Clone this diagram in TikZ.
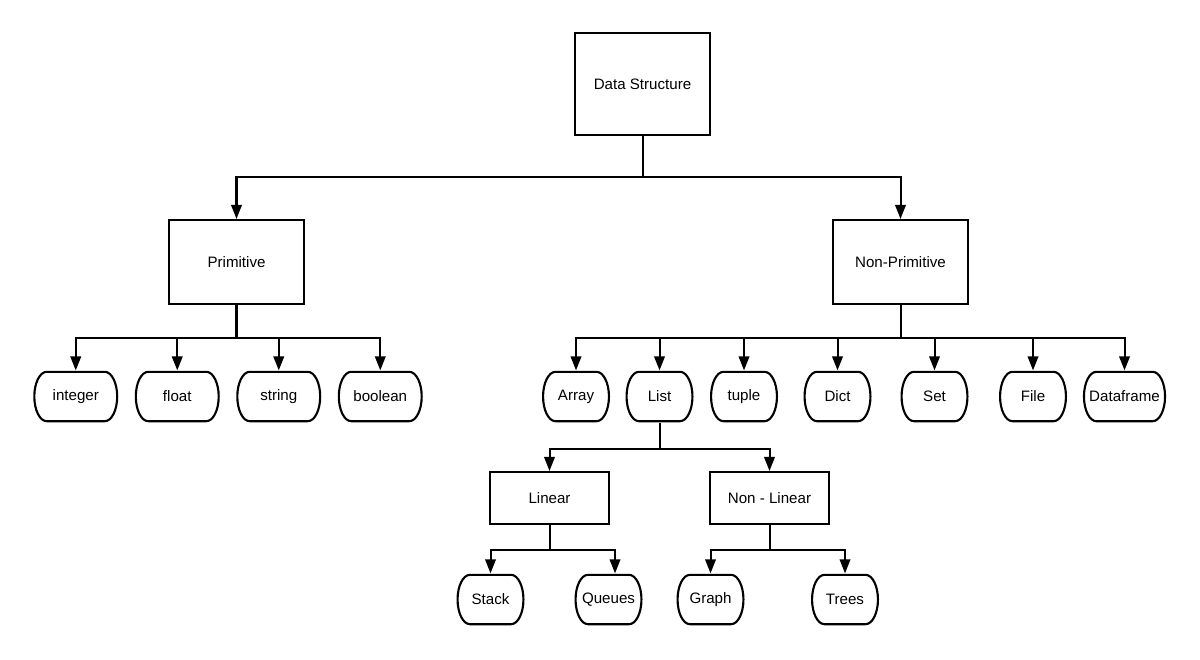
\documentclass[tikz,border=0pt]{standalone}
\usepackage{fontspec}
\setmainfont{Liberation Sans}
\usetikzlibrary{arrows.meta}

\tikzset{
  box/.style={draw,line width=1.2pt,minimum width=2.7cm},
  leaf/.style={minimum width=1.36cm,minimum height=1.03cm,inner xsep=3.6pt,
    path picture={\draw[line width=1.2pt]
      ([xshift=.27cm,yshift=-.6pt]path picture bounding box.north west)
      -- ([xshift=-.27cm,yshift=-.6pt]path picture bounding box.north east)
      arc[start angle=90,end angle=-90,x radius=.27cm-.6pt,y radius=.515cm-.6pt]
      -- ([xshift=.27cm,yshift=.6pt]path picture bounding box.south west)
      arc[start angle=270,end angle=90,x radius=.27cm-.6pt,y radius=.515cm-.6pt]
      -- cycle;}},
  bus/.style={edge from parent path={(\tikzparentnode.south) -- ++(0,-#1) -| (\tikzchildnode.north)}},
  prim/.style={sibling distance=2.03cm,xshift=-.17cm}
}

\begin{document}
\begin{tikzpicture}[font=\fontsize{8.6}{10}\selectfont,level distance=3.56cm,sibling distance=13.28cm,
edge from parent/.style={draw,line width=1.15pt,-{Triangle[length=8pt,width=6pt]}},
level 1/.style={bus=.82cm},
level 2/.style={sibling distance=1.84cm,level distance=2.69cm,bus=.66cm},
level 3/.style={sibling distance=4.4cm,level distance=2.03cm,bus=.52cm},
level 4/.style={sibling distance=2.36cm,level distance=2.03cm,bus=.5cm}]
\useasboundingbox (0,0) rectangle (24,-13.18);
\node[box,minimum height=2.04cm] (root) at (12.85,-1.68) {Data Structure}
child[xshift=-1.48cm] {
    node[box,minimum height=1.68cm] (prim) {Primitive}
    child[prim] {node[leaf,minimum width=1.7cm] (int) {integer}}
    child[prim] {node[leaf,minimum width=1.7cm] (float) {float}}
    child[prim] {node[leaf,minimum width=1.7cm] (str) {string}}
    child[prim] {node[leaf,minimum width=1.7cm] (bool) {boolean}}
}
child[xshift=-1.48cm] {
    node[box,minimum height=1.68cm] (nonprim) {Non-Primitive}
    child[xshift=-.97cm] {node[leaf] (array) {Array}}
    child[xshift=-1.14cm] {
        node[leaf] (list) {List}
        child {
            node[box,minimum width=2.38cm,minimum height=1.04cm] (lin) {Linear}
            child {node[leaf] (stack) {Stack}}
            child[edge from parent path={(\tikzparentnode.south) -- ++(0,-.5cm) -| ([xshift=.13cm]\tikzchildnode.north)}] {
              node[leaf] (queue) {Queues}
            }
        }
        child {
            node[box,minimum width=2.38cm,minimum height=1.04cm] (nonlin) {Non - Linear}
            child {node[leaf] (graph) {Graph}}
            child[xshift=.33cm] {node[leaf] (trees) {Trees}}
        }
    }
    child[xshift=-1.29cm] {node[leaf] (tuple) {tuple}}
    child[xshift=-1.26cm] {node[leaf] (dict) {Dict}}
    child[xshift=-1.16cm] {node[leaf] (set) {Set}}
    child[xshift=-1.03cm] {node[leaf] (file) {File}}
    child[xshift=-1.04cm] {node[leaf] (df) {Dataframe}}
};
\end{tikzpicture}
\end{document}
